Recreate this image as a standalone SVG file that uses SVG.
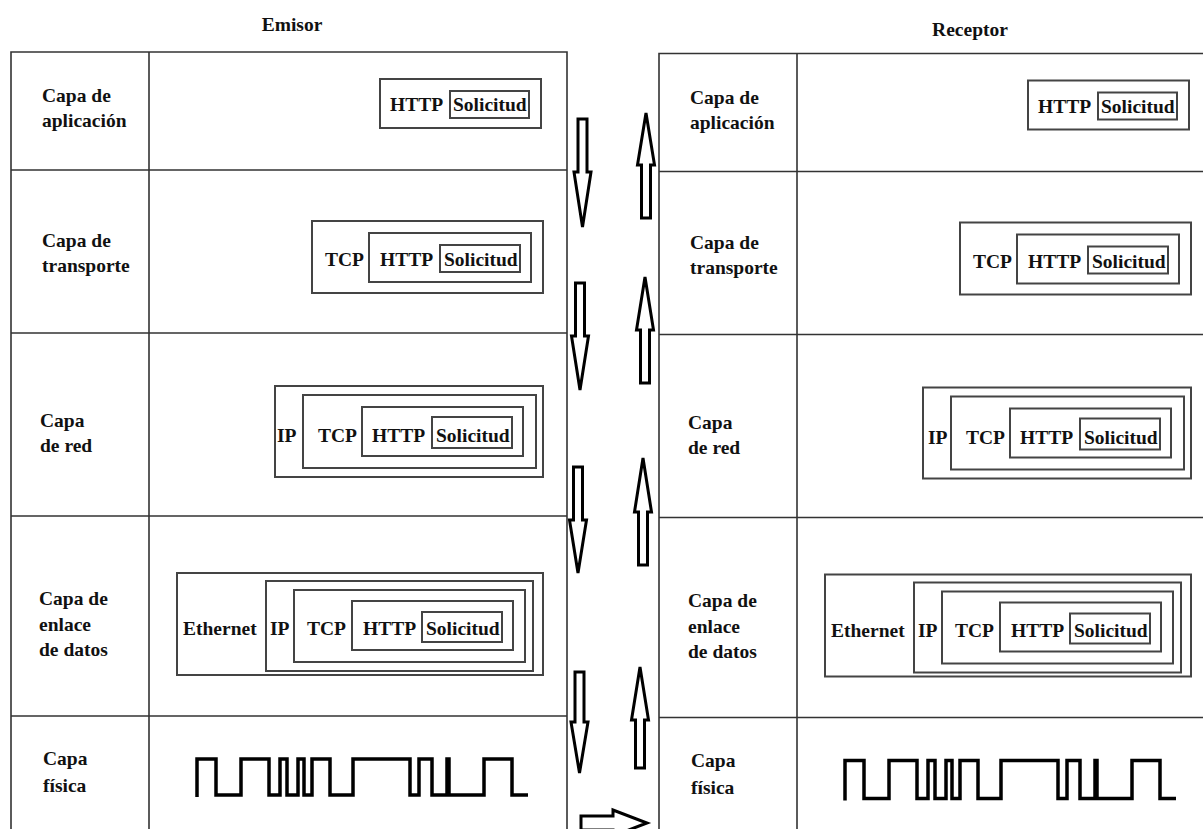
<svg xmlns="http://www.w3.org/2000/svg" width="1203" height="829" viewBox="0 0 1203 829">
<style>
.t{font-family:"Liberation Serif","Times New Roman",serif;font-weight:bold;font-size:19.5px;fill:#111}
.tl{fill:none;stroke:#333;stroke-width:1.6}
.bx{fill:none;stroke:#444;stroke-width:2}
.sig{fill:none;stroke:#000;stroke-width:3.5;stroke-linejoin:miter}
.ar{fill:#fff;stroke:#000;stroke-width:3;stroke-linejoin:miter}
</style>
<rect width="1203" height="829" fill="#fff"/>
<text class="t" x="292" y="31" text-anchor="middle">Emisor</text>
<text class="t" x="970" y="36" text-anchor="middle">Receptor</text>

<g id="emisor">
  <g id="emisor-tabla">
    <path class="tl" d="M11,835 V52 H567 V835 M149,52 V835 M11,170 H567 M11,333 H567 M11,516 H567 M11,716 H567"/>
  </g>
  <g id="emisor-aplicacion">
    <text class="t" x="42" y="102">Capa de</text>
    <text class="t" x="42" y="127">aplicación</text>
    <rect class="bx" x="380" y="79" width="161" height="49"/>
    <text class="t" x="390" y="111">HTTP</text>
    <rect class="bx" x="450" y="91" width="79" height="27"/>
    <text class="t" x="453" y="111">Solicitud</text>
  </g>
  <g id="emisor-transporte">
    <text class="t" x="42" y="247">Capa de</text>
    <text class="t" x="42" y="272">transporte</text>
    <rect class="bx" x="312" y="221" width="231" height="72"/>
    <text class="t" x="325" y="266">TCP</text>
    <rect class="bx" x="369" y="233" width="162" height="49"/>
    <text class="t" x="380" y="266">HTTP</text>
    <rect class="bx" x="440" y="245" width="80" height="27"/>
    <text class="t" x="444" y="266">Solicitud</text>
  </g>
  <g id="emisor-red">
    <text class="t" x="40" y="427">Capa</text>
    <text class="t" x="40" y="452">de red</text>
    <rect class="bx" x="275" y="386" width="268" height="91"/>
    <text class="t" x="277" y="442">IP</text>
    <rect class="bx" x="303" y="395" width="233" height="73"/>
    <text class="t" x="318" y="442">TCP</text>
    <rect class="bx" x="362" y="407" width="161" height="49"/>
    <text class="t" x="372" y="442">HTTP</text>
    <rect class="bx" x="432" y="417" width="80" height="31"/>
    <text class="t" x="436" y="442">Solicitud</text>
  </g>
  <g id="emisor-enlace">
    <text class="t" x="39" y="605">Capa de</text>
    <text class="t" x="39" y="631">enlace</text>
    <text class="t" x="39" y="656">de datos</text>
    <rect class="bx" x="177" y="573" width="366" height="102"/>
    <text class="t" x="183" y="635">Ethernet</text>
    <rect class="bx" x="266" y="581" width="267" height="90"/>
    <text class="t" x="270" y="635">IP</text>
    <rect class="bx" x="294" y="590" width="231" height="72"/>
    <text class="t" x="307" y="635">TCP</text>
    <rect class="bx" x="352" y="601" width="161" height="49"/>
    <text class="t" x="363" y="635">HTTP</text>
    <rect class="bx" x="422" y="612" width="80" height="30"/>
    <text class="t" x="426" y="635">Solicitud</text>
  </g>
  <g id="emisor-fisica">
    <text class="t" x="43" y="765">Capa</text>
    <text class="t" x="43" y="792">física</text>
    <path class="sig" d="M197,797 V759 H216 V795 H241 V759 H269 V795 H280 V759 H287 V795 H298 V759 H304 V795 H312 V759 H330 V795 H353 V759 H410 V795 H419 V759 H432 V795 H447 V759 H449 V795 H484 V759 H512 V795 H528"/>
  </g>
</g>

<g id="receptor" transform="translate(648,1.5)">
  <g id="receptor-tabla">
    <path class="tl" d="M11,835 V52 H567 V835 M149,52 V835 M11,170 H567 M11,333 H567 M11,516 H567 M11,716 H567"/>
  </g>
  <g id="receptor-aplicacion">
    <text class="t" x="42" y="102">Capa de</text>
    <text class="t" x="42" y="127">aplicación</text>
    <rect class="bx" x="380" y="79" width="161" height="49"/>
    <text class="t" x="390" y="111">HTTP</text>
    <rect class="bx" x="450" y="91" width="79" height="27"/>
    <text class="t" x="453" y="111">Solicitud</text>
  </g>
  <g id="receptor-transporte">
    <text class="t" x="42" y="247">Capa de</text>
    <text class="t" x="42" y="272">transporte</text>
    <rect class="bx" x="312" y="221" width="231" height="72"/>
    <text class="t" x="325" y="266">TCP</text>
    <rect class="bx" x="369" y="233" width="162" height="49"/>
    <text class="t" x="380" y="266">HTTP</text>
    <rect class="bx" x="440" y="245" width="80" height="27"/>
    <text class="t" x="444" y="266">Solicitud</text>
  </g>
  <g id="receptor-red">
    <text class="t" x="40" y="427">Capa</text>
    <text class="t" x="40" y="452">de red</text>
    <rect class="bx" x="275" y="386" width="268" height="91"/>
    <text class="t" x="280" y="442">IP</text>
    <rect class="bx" x="303" y="395" width="233" height="73"/>
    <text class="t" x="318" y="442">TCP</text>
    <rect class="bx" x="362" y="407" width="161" height="49"/>
    <text class="t" x="372" y="442">HTTP</text>
    <rect class="bx" x="432" y="417" width="80" height="31"/>
    <text class="t" x="436" y="442">Solicitud</text>
  </g>
  <g id="receptor-enlace">
    <text class="t" x="40" y="605">Capa de</text>
    <text class="t" x="40" y="631">enlace</text>
    <text class="t" x="40" y="656">de datos</text>
    <rect class="bx" x="177" y="573" width="366" height="102"/>
    <text class="t" x="183" y="635">Ethernet</text>
    <rect class="bx" x="266" y="581" width="267" height="90"/>
    <text class="t" x="270" y="635">IP</text>
    <rect class="bx" x="294" y="590" width="231" height="72"/>
    <text class="t" x="307" y="635">TCP</text>
    <rect class="bx" x="352" y="601" width="161" height="49"/>
    <text class="t" x="363" y="635">HTTP</text>
    <rect class="bx" x="422" y="612" width="80" height="30"/>
    <text class="t" x="426" y="635">Solicitud</text>
  </g>
  <g id="receptor-fisica">
    <text class="t" x="43" y="765">Capa</text>
    <text class="t" x="43" y="792">física</text>
    <path class="sig" d="M197,799 V759 H216 V797 H241 V759 H269 V797 H280 V759 H287 V797 H298 V759 H304 V797 H312 V759 H330 V797 H353 V759 H410 V797 H419 V759 H432 V797 H447 V759 H449 V797 H484 V759 H512 V797 H528"/>
  </g>
</g>

<g id="conectores">
  <polygon class="ar" points="578,119 587,119 587,172 591,172 582.5,227 574,172 578,172"/>
  <polygon class="ar" points="575.5,283 584.5,283 584.5,336 588.5,336 580,390 571.5,336 575.5,336"/>
  <polygon class="ar" points="573.5,467 582.5,467 582.5,520 586.5,520 578,573 569.5,520 573.5,520"/>
  <polygon class="ar" points="575,672 584,672 584,722 588,722 579.5,773 571,722 575,722"/>
  <polygon class="ar" points="646,113 654.5,165 650.5,165 650.5,218 641.5,218 641.5,165 637.5,165"/>
  <polygon class="ar" points="645,277 653.5,330 649.5,330 649.5,383 640.5,383 640.5,330 636.5,330"/>
  <polygon class="ar" points="643,458 651.5,512 647.5,512 647.5,565 638.5,565 638.5,512 634.5,512"/>
  <polygon class="ar" points="640,667 648.5,720 644.5,720 644.5,768 635.5,768 635.5,720 631.5,720"/>
  <polygon class="ar" points="581,816 613,816 613,810 647,823 613,836 613,830 581,830"/>
</g>
</svg>
